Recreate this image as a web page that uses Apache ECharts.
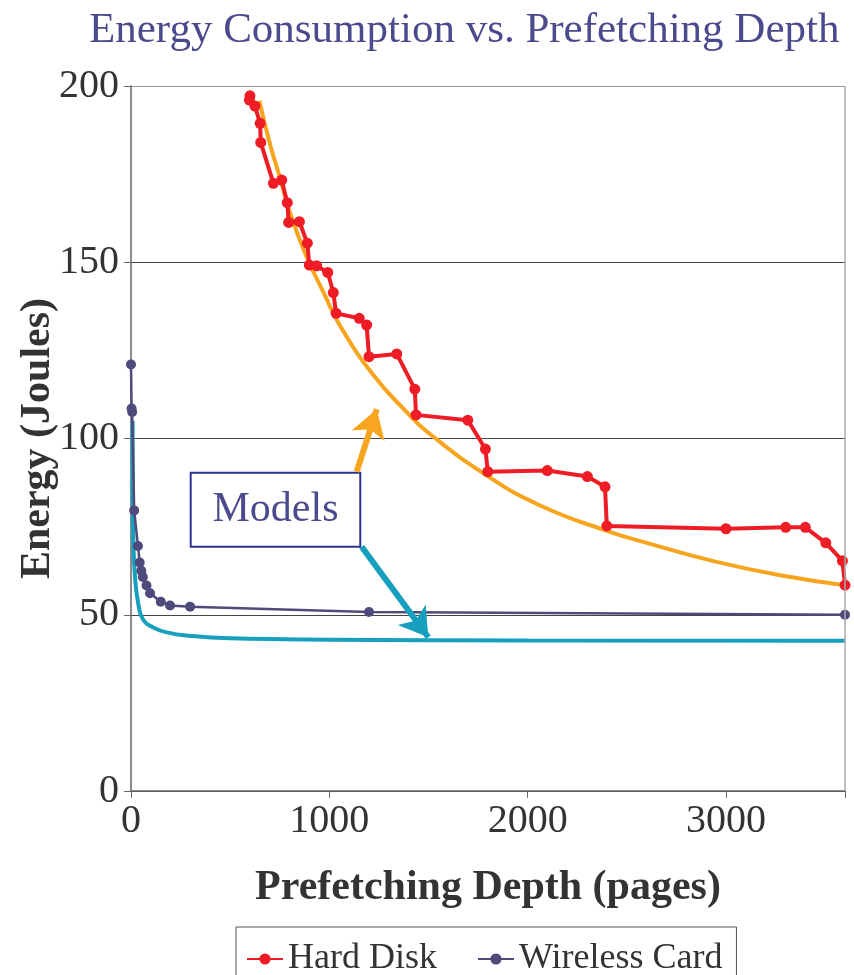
<!DOCTYPE html>
<html>
<head>
<meta charset="utf-8">
<script src="https://cdn.jsdelivr.net/npm/echarts@6/dist/echarts.min.js"></script>
<style>
html,body{margin:0;padding:0;background:#fff;}
#chart{width:854px;height:975px;}
</style>
</head>
<body>
<div id="chart"></div>
<script>
// Measured data (pages, Joules)
const hardDisk = [
  [597,196],[600,197.2],[625,194.3],[651,189.4],[654,184],[718,172.4],[760,173.3],
  [788,166.9],[795,161.3],[849,161.5],[889,155.4],[899,149.2],[936,149],[992,147.1],
  [1020,141.4],[1034,135.5],[1151,134.1],[1188,132.2],[1200,123.2],[1340,124],
  [1431,114],[1437,106.7],[1698,105.2],[1787,97],[1799,90.6],[2099,90.9],[2301,89.2],
  [2390,86.3],[2399,75.2],[3000,74.4],[3301,74.8],[3400,74.8],[3503,70.4],[3587,65.3],[3600,58.4]
];
const wirelessCard = [
  [0,121],[3,108.5],[6,107.5],[16,79.6],[35,69.5],[44,64.8],[52,62.5],[60,60.7],
  [78,58.3],[96,56.1],[150,53.7],[197,52.6],[298,52.3],[1200,50.8],[3600,50]
];
const diskModel = [
  [647,195.8],[701,183.5],[751,174],[802,164],[882,152],[970,141.5],[1054,132],
  [1222,118],[1390,107.5],[1491,102],[1794,89.5],[2063,81],[2399,73.8],[2600,70.4],
  [2937,65.2],[3273,61.2],[3600,58.4]
];
const wirelessModel = [
  [8,105],[9,85],[12,71],[20,61],[37,53],[62,48.5],[112,46.4],[180,45],[300,44],
  [500,43.3],[1000,42.9],[2000,42.7],[3600,42.6]
];
const xTicks = [0,1000,2000,3000];
const yTicks = [0,50,100,150,200];

// annotation anchors (data coordinates)
const modelsBoxCorners = [[301,90.3],[1156,69.3]];
const diskArrow = [[1138,90.6],[1239,108.3]];
const wirelessArrow = [[1163,69.3],[1499,43.6]];

const FONT = 'Liberation Serif';
const chart = echarts.init(document.getElementById('chart'));

const option = {
  animation: false,
  backgroundColor: '#fff',
  title: {
    text: 'Energy Consumption vs. Prefetching Depth',
    left: 84, top: 4,
    textStyle: {fontFamily: FONT, fontSize: 43, fontWeight: 'normal', color: '#4b4a8c'}
  },
  grid: {left: 131, right: 9, top: 86, bottom: 184, containLabel: false},
  legend: {
    data: ['Hard Disk', 'Wireless Card'],
    left: 236, top: 927,
    padding: [14, 14, 4, 10],
    borderColor: '#555', borderWidth: 1,
    itemWidth: 36, itemHeight: 14, itemGap: 40,
    textStyle: {fontFamily: FONT, fontSize: 36, color: '#333'}
  },
  xAxis: {
    type: 'value', min: 0, max: 3600, interval: 1000,
    name: 'Prefetching Depth (pages)', nameLocation: 'middle', nameGap: 76,
    nameMoveOverlap: false,
    nameTextStyle: {fontFamily: FONT, fontSize: 42, fontWeight: 'bold', color: '#333'},
    axisLine: {show: true, lineStyle: {color: '#666', width: 1.5}},
    axisTick: {show: true, length: 7, lineStyle: {color: '#666'}},
    axisLabel: {
      fontFamily: FONT, fontSize: 40, color: '#333', margin: 10,
      formatter: v => xTicks.indexOf(v) >= 0 ? String(v) : ''
    },
    splitLine: {show: false}
  },
  yAxis: {
    type: 'value', min: 0, max: 200, interval: 50,
    name: 'Energy (Joules)', nameLocation: 'middle', nameGap: 72,
    nameMoveOverlap: false,
    nameTextStyle: {fontFamily: FONT, fontSize: 42, fontWeight: 'bold', color: '#333'},
    axisLine: {show: true, lineStyle: {color: '#666', width: 1.5}},
    axisTick: {show: true, length: 7, lineStyle: {color: '#666'}},
    axisLabel: {
      fontFamily: FONT, fontSize: 40, color: '#333', margin: 12,
      formatter: v => yTicks.indexOf(v) >= 0 ? String(v) : ''
    },
    splitLine: {show: true, lineStyle: {color: ['#444','#444','#444','#444','#999'], width: 1.2}}
  },
  series: [
    {
      name: 'Wireless Model', type: 'line', data: wirelessModel, smooth: true,
      showSymbol: false, symbol: 'none',
      lineStyle: {color: '#16a0be', width: 4}, itemStyle: {color: '#16a0be'},
      z: 2,
      markLine: {
        silent: true, symbol: ['none', 'arrow'], symbolSize: [26, 28],
        label: {show: false},
        lineStyle: {color: '#16a0be', width: 6, type: 'solid'},
        data: [[{coord: wirelessArrow[0]}, {coord: wirelessArrow[1]}]]
      }
    },
    {
      name: 'Disk Model', type: 'line', data: diskModel, smooth: true,
      showSymbol: false, symbol: 'none',
      lineStyle: {color: '#f7a51e', width: 4}, itemStyle: {color: '#f7a51e'},
      z: 2,
      markLine: {
        silent: true, symbol: ['none', 'arrow'], symbolSize: [26, 28],
        label: {show: false},
        lineStyle: {color: '#f7a51e', width: 6, type: 'solid'},
        data: [[{coord: diskArrow[0]}, {coord: diskArrow[1]}]]
      }
    },
    {
      name: 'Wireless Card', type: 'line', data: wirelessCard,
      symbol: 'circle', symbolSize: 10,
      lineStyle: {color: '#4e4a7c', width: 2.5}, itemStyle: {color: '#4e4a7c'},
      z: 3,
      markLine: {
        silent: true, symbol: 'none', label: {show: false},
        lineStyle: {color: '#aaa', width: 1.5, type: 'solid'},
        data: [{xAxis: 3600}]
      }
    },
    {
      name: 'Hard Disk', type: 'line', data: hardDisk,
      symbol: 'circle', symbolSize: 11,
      lineStyle: {color: '#ee1c25', width: 4}, itemStyle: {color: '#ee1c25'},
      z: 4
    }
  ]
};
chart.setOption(option);

const p0 = chart.convertToPixel({gridIndex: 0}, modelsBoxCorners[0]);
const p1 = chart.convertToPixel({gridIndex: 0}, modelsBoxCorners[1]);
chart.setOption({
  graphic: [{
    type: 'group',
    z: 100,
    children: [
      {
        type: 'rect',
        shape: {x: p0[0], y: p0[1], width: p1[0] - p0[0], height: p1[1] - p0[1]},
        style: {fill: '#fff', stroke: '#2e3192', lineWidth: 2}
      },
      {
        type: 'text',
        x: (p0[0] + p1[0]) / 2, y: (p0[1] + p1[1]) / 2,
        style: {text: 'Models', fontFamily: FONT, fontSize: 42, fill: '#4b4a8c',
                align: 'center', verticalAlign: 'middle'}
      }
    ]
  }]
});
</script>
</body>
</html>
